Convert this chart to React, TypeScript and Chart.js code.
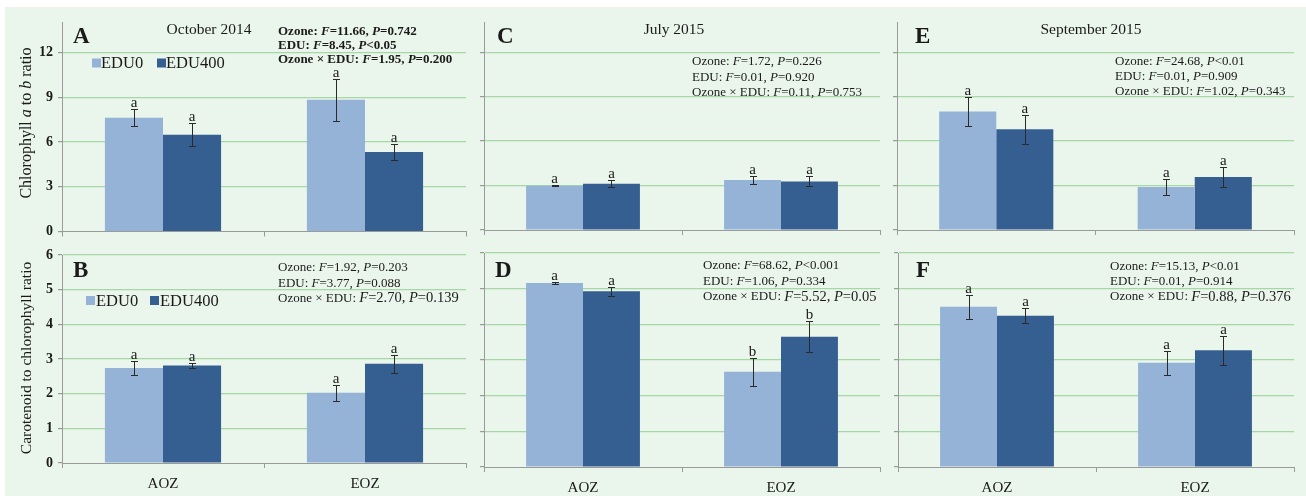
import React, { useEffect, useRef } from 'react';
import { Chart, registerables } from 'chart.js';

Chart.register(...registerables);

// ---------------- data ----------------
const categories = ['AOZ', 'EOZ'];
const seriesLabels = ['EDU0', 'EDU400'];
const seriesColors = ['#95B3D7', '#365F91'];

const chlTicks = [0, 3, 6, 9, 12];
const chlMax = 14;
const carTicks = [0, 1, 2, 3, 4, 5, 6];
const carMax = 6;

// A: October 2014, chlorophyll a/b
const aEdu0 = [7.62, 8.83];
const aEdu0Err = [0.58, 1.41];
const aEdu400 = [6.48, 5.32];
const aEdu400Err = [0.78, 0.56];
const aLetters0 = ['a', 'a'];
const aLetters400 = ['a', 'a'];

// B: October 2014, carotenoid/chlorophyll
const bEdu0 = [2.74, 2.03];
const bEdu0Err = [0.21, 0.23];
const bEdu400 = [2.81, 2.86];
const bEdu400Err = [0.08, 0.26];
const bLetters0 = ['a', 'a'];
const bLetters400 = ['a', 'a'];

// C: July 2015, chlorophyll a/b
const cEdu0 = [2.99, 3.37];
const cEdu0Err = [0.03, 0.24];
const cEdu400 = [3.12, 3.28];
const cEdu400Err = [0.22, 0.33];
const cLetters0 = ['a', 'a'];
const cLetters400 = ['a', 'a'];

// D: July 2015, carotenoid/chlorophyll
const dEdu0 = [5.16, 2.67];
const dEdu0Err = [0.02, 0.39];
const dEdu400 = [4.93, 3.65];
const dEdu400Err = [0.13, 0.43];
const dLetters0 = ['a', 'b'];
const dLetters400 = ['a', 'b'];

// E: September 2015, chlorophyll a/b
const eEdu0 = [8.0, 2.9];
const eEdu0Err = [0.97, 0.55];
const eEdu400 = [6.79, 3.57];
const eEdu400Err = [0.97, 0.69];
const eLetters0 = ['a', 'a'];
const eLetters400 = ['a', 'a'];

// F: September 2015, carotenoid/chlorophyll
const fEdu0 = [4.49, 2.92];
const fEdu0Err = [0.34, 0.33];
const fEdu400 = [4.24, 3.27];
const fEdu400Err = [0.21, 0.41];
const fLetters0 = ['a', 'a'];
const fLetters400 = ['a', 'a'];

// ---------------- styling ----------------
const FONT = '"Liberation Serif", "Times New Roman", serif';
const W = 1306;
const H = 496;
const GRID = '#A6D8A6';
const AXIS = '#9A9A9A';
const TEXT = '#1A1A1A';

type Seg = { text: string; italic: boolean; large: boolean };

function parseRich(s: string): Seg[] {
  const out: Seg[] = [];
  let italic = false;
  let large = false;
  let buf = '';
  const flush = () => {
    if (buf) out.push({ text: buf, italic, large });
    buf = '';
  };
  for (const ch of s) {
    if (ch === '*') { flush(); italic = !italic; }
    else if (ch === '{') { flush(); large = true; }
    else if (ch === '}') { flush(); large = false; }
    else buf += ch;
  }
  flush();
  return out;
}

function fontStr(size: number, italic: boolean, bold: boolean) {
  return `${italic ? 'italic ' : ''}${bold ? 'bold ' : ''}${size}px ${FONT}`;
}

function richWidth(ctx: CanvasRenderingContext2D, segs: Seg[], size: number, bold: boolean) {
  let w = 0;
  for (const s of segs) {
    ctx.font = fontStr(s.large ? size + 1.5 : size, s.italic, bold);
    w += ctx.measureText(s.text).width;
  }
  return w;
}

function drawRich(ctx: CanvasRenderingContext2D, segs: Seg[], x: number, y: number, size: number, bold: boolean) {
  let cx = x;
  for (const s of segs) {
    ctx.font = fontStr(s.large ? size + 1.5 : size, s.italic, bold);
    ctx.fillText(s.text, cx, y);
    cx += ctx.measureText(s.text).width;
  }
}

type PanelCfg = {
  key: string;
  letter: string;
  letterX: number;
  letterY: number;
  title?: string;
  titleX?: number;
  titleY?: number;
  stats: string[];
  statsX: number;
  statsY: number;
  statsGap: number;
  statsBold: boolean;
  legend?: { y: number; items: { sq: number; tx: number }[] };
  yTitle?: string;
  yTitleX?: number;
  yTitleY?: number;
  yTitleSize?: number;
  area: { l: number; t: number; r: number; b: number };
  max: number;
  ticks: number[];
  showYLabels: boolean;
  showXLabels: boolean;
  values: number[][];
  errors: number[][];
  letters: string[][];
};

const panels: PanelCfg[] = [
  {
    key: 'A', letter: 'A', letterX: 73, letterY: 43,
    title: 'October 2014', titleX: 209, titleY: 30,
    stats: ['Ozone: *F*=11.66, *P*=0.742', 'EDU: *F*=8.45, *P*<0.05', 'Ozone × EDU: *F*=1.95, *P*=0.200'],
    statsX: 278, statsY: 31.5, statsGap: 14.2, statsBold: true,
    legend: { y: 63, items: [{ sq: 92, tx: 101 }, { sq: 157, tx: 166 }] },
    yTitle: 'Chlorophyll *a* to *b* ratio', yTitleX: 27, yTitleY: 123, yTitleSize: 16,
    area: { l: 62, t: 22.6, r: 466, b: 231.5 }, max: chlMax, ticks: chlTicks,
    showYLabels: true, showXLabels: false,
    values: [aEdu0, aEdu400], errors: [aEdu0Err, aEdu400Err], letters: [aLetters0, aLetters400],
  },
  {
    key: 'B', letter: 'B', letterX: 73, letterY: 277,
    stats: ['Ozone: *F*=1.92, *P*=0.203', 'EDU: *F*=3.77, *P*=0.088', 'Ozone × EDU: {*F*=2.70, *P*=0.139}'],
    statsX: 278, statsY: 268, statsGap: 15.3, statsBold: false,
    legend: { y: 300.5, items: [{ sq: 86, tx: 96 }, { sq: 150, tx: 160 }] },
    yTitle: 'Carotenoid to chlorophyll ratio', yTitleX: 27, yTitleY: 358, yTitleSize: 15.5,
    area: { l: 62, t: 255, r: 466, b: 463 }, max: carMax, ticks: carTicks,
    showYLabels: true, showXLabels: true,
    values: [bEdu0, bEdu400], errors: [bEdu0Err, bEdu400Err], letters: [bLetters0, bLetters400],
  },
  {
    key: 'C', letter: 'C', letterX: 497, letterY: 43,
    title: 'July 2015', titleX: 674, titleY: 30,
    stats: ['Ozone: *F*=1.72, *P*=0.226', 'EDU: *F*=0.01, *P*=0.920', 'Ozone × EDU: *F*=0.11, *P*=0.753'],
    statsX: 692, statsY: 62, statsGap: 15.5, statsBold: false,
    area: { l: 484, t: 22.5, r: 880, b: 230 }, max: chlMax, ticks: chlTicks,
    showYLabels: false, showXLabels: false,
    values: [cEdu0, cEdu400], errors: [cEdu0Err, cEdu400Err], letters: [cLetters0, cLetters400],
  },
  {
    key: 'D', letter: 'D', letterX: 495, letterY: 277,
    stats: ['Ozone: *F*=68.62, *P*<0.001', 'EDU: *F*=1.06, *P*=0.334', 'Ozone × EDU: {*F*=5.52, *P*=0.05}'],
    statsX: 703, statsY: 266, statsGap: 15.5, statsBold: false,
    area: { l: 484, t: 253, r: 880, b: 467 }, max: carMax, ticks: carTicks,
    showYLabels: false, showXLabels: true,
    values: [dEdu0, dEdu400], errors: [dEdu0Err, dEdu400Err], letters: [dLetters0, dLetters400],
  },
  {
    key: 'E', letter: 'E', letterX: 915, letterY: 43,
    title: 'September 2015', titleX: 1091, titleY: 30,
    stats: ['Ozone: *F*=24.68, *P*<0.01', 'EDU: *F*=0.01, *P*=0.909', 'Ozone × EDU: *F*=1.02, *P*=0.343'],
    statsX: 1115, statsY: 62, statsGap: 15, statsBold: false,
    area: { l: 897, t: 22.5, r: 1294, b: 230 }, max: chlMax, ticks: chlTicks,
    showYLabels: false, showXLabels: false,
    values: [eEdu0, eEdu400], errors: [eEdu0Err, eEdu400Err], letters: [eLetters0, eLetters400],
  },
  {
    key: 'F', letter: 'F', letterX: 916, letterY: 277,
    stats: ['Ozone: *F*=15.13, *P*<0.01', 'EDU: *F*=0.01, *P*=0.914', 'Ozone × EDU: {*F*=0.88, *P*=0.376}'],
    statsX: 1110, statsY: 267, statsGap: 15, statsBold: false,
    area: { l: 898, t: 253, r: 1294, b: 467 }, max: carMax, ticks: carTicks,
    showYLabels: false, showXLabels: true,
    values: [fEdu0, fEdu400], errors: [fEdu0Err, fEdu400Err], letters: [fLetters0, fLetters400],
  },
];

function Panel({ cfg }: { cfg: PanelCfg }) {
  const ref = useRef<HTMLCanvasElement | null>(null);

  useEffect(() => {
    const canvas = ref.current;
    if (!canvas) return;
    const { area } = cfg;

    const deco = {
      id: 'deco' + cfg.key,
      afterDatasetsDraw(chart: any) {
        const ctx: CanvasRenderingContext2D = chart.ctx;
        const yScale = chart.scales.y;
        ctx.save();
        chart.data.datasets.forEach((ds: any, di: number) => {
          const meta = chart.getDatasetMeta(di);
          meta.data.forEach((el: any, j: number) => {
            const v = ds.data[j] as number;
            const e = cfg.errors[di][j];
            const x = Math.round(el.x) + 0.5;
            const yHi = Math.round(yScale.getPixelForValue(v + e)) + 0.5;
            const yLo = Math.round(yScale.getPixelForValue(v - e)) + 0.5;
            ctx.strokeStyle = '#2A2A2A';
            ctx.lineWidth = 1;
            ctx.beginPath();
            ctx.moveTo(x, yHi); ctx.lineTo(x, yLo);
            ctx.moveTo(x - 3.5, yHi); ctx.lineTo(x + 3.5, yHi);
            ctx.moveTo(x - 3.5, yLo); ctx.lineTo(x + 3.5, yLo);
            ctx.stroke();
            ctx.fillStyle = TEXT;
            ctx.font = `15px ${FONT}`;
            ctx.textAlign = 'center';
            ctx.textBaseline = 'alphabetic';
            ctx.fillText(cfg.letters[di][j], el.x, yHi - 2.5);
          });
        });
        ctx.restore();
      },
      afterDraw(chart: any) {
        const ctx: CanvasRenderingContext2D = chart.ctx;
        ctx.save();
        ctx.fillStyle = TEXT;
        ctx.textAlign = 'left';
        ctx.textBaseline = 'alphabetic';
        ctx.font = `bold 23px ${FONT}`;
        ctx.fillText(cfg.letter, cfg.letterX, cfg.letterY);
        if (cfg.title) {
          ctx.textAlign = 'center';
          ctx.textBaseline = 'middle';
          ctx.font = `15.5px ${FONT}`;
          ctx.fillText(cfg.title, cfg.titleX as number, cfg.titleY as number);
        }
        ctx.textAlign = 'left';
        ctx.textBaseline = 'middle';
        cfg.stats.forEach((line, i) => {
          drawRich(ctx, parseRich(line), cfg.statsX, cfg.statsY + i * cfg.statsGap, 13, cfg.statsBold);
        });
        if (cfg.legend) {
          const lg = cfg.legend;
          chart.data.datasets.forEach((ds: any, di: number) => {
            const it = lg.items[di];
            ctx.fillStyle = ds.backgroundColor;
            ctx.fillRect(it.sq, lg.y - 4.5, 9, 9);
            ctx.fillStyle = TEXT;
            ctx.font = `16.5px ${FONT}`;
            ctx.textBaseline = 'middle';
            ctx.fillText(ds.label, it.tx, lg.y + 1);
          });
        }
        if (cfg.yTitle) {
          const segs = parseRich(cfg.yTitle);
          const size = cfg.yTitleSize as number;
          const w = richWidth(ctx, segs, size, false);
          ctx.translate(cfg.yTitleX as number, cfg.yTitleY as number);
          ctx.rotate(-Math.PI / 2);
          ctx.fillStyle = TEXT;
          ctx.textBaseline = 'middle';
          drawRich(ctx, segs, -w / 2, 0, size, false);
        }
        ctx.restore();
      },
    };

    const chart = new Chart(canvas, {
      type: 'bar',
      data: {
        labels: categories,
        datasets: cfg.values.map((vals, i) => ({
          label: seriesLabels[i],
          data: vals,
          backgroundColor: seriesColors[i],
          borderWidth: 0,
          barPercentage: 1,
          categoryPercentage: 0.575,
        })),
      },
      options: {
        responsive: false,
        animation: false,
        events: [],
        layout: {
          padding: { left: 0, top: area.t, right: W - area.r, bottom: 0 },
        },
        plugins: {
          legend: { display: false },
          tooltip: { enabled: false },
          title: { display: false },
        },
        scales: {
          x: {
            type: 'category',
            offset: true,
            grid: {
              display: true,
              offset: true,
              drawOnChartArea: false,
              drawTicks: true,
              tickLength: 5,
              tickColor: AXIS,
            },
            border: { display: true, color: AXIS, width: 1 },
            ticks: {
              display: cfg.showXLabels,
              color: TEXT,
              padding: 7,
              font: { family: FONT, size: 15 },
            },
            afterFit: (scale: any) => { scale.height = H - area.b; },
          },
          y: {
            type: 'linear',
            min: 0,
            max: cfg.max,
            afterBuildTicks: (scale: any) => { scale.ticks = cfg.ticks.map((v) => ({ value: v })); },
            grid: {
              display: true,
              color: (c: any) => (c.tick && c.tick.value === 0 ? 'rgba(0,0,0,0)' : GRID),
              lineWidth: 1.2,
              drawTicks: true,
              tickLength: 4,
              tickColor: AXIS,
            },
            border: { display: true, color: AXIS, width: 1 },
            ticks: {
              display: cfg.showYLabels,
              color: TEXT,
              padding: 5,
              font: { family: FONT, size: 14, weight: 'bold' },
            },
            afterFit: (scale: any) => { scale.width = area.l; },
          },
        },
      },
      plugins: [deco],
    } as any);

    return () => chart.destroy();
  }, [cfg]);

  return (
    <canvas
      ref={ref}
      width={W}
      height={H}
      style={{ position: 'absolute', left: 0, top: 0, width: W, height: H }}
    />
  );
}

export default function App() {
  return (
    <div
      style={{
        position: 'fixed',
        left: 0,
        top: 0,
        width: W,
        height: H,
        background: '#FFFFFF',
        overflow: 'hidden',
      }}
    >
      <div
        style={{
          position: 'absolute',
          left: 5,
          top: 7,
          right: 0,
          bottom: 0,
          background: '#EAF5EB',
        }}
      />
      {panels.map((p) => (
        <Panel key={p.key} cfg={p} />
      ))}
    </div>
  );
}
